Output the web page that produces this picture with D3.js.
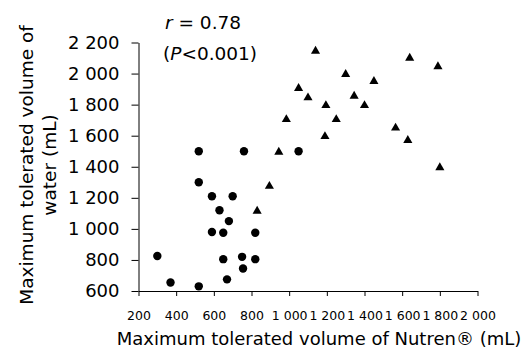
<!DOCTYPE html>
<html>
<head>
<meta charset="utf-8">
<script src="https://cdn.jsdelivr.net/npm/d3@7"></script>
<style>
  html, body { margin: 0; padding: 0; background: #fff; }
  svg { display: block; font-family: "DejaVu Sans", Verdana, sans-serif; }
</style>
</head>
<body>
<svg id="chart" width="524" height="350"></svg>
<script>
// circles: Nutren (mL) vs water (mL)
const circleNutren = [520, 760, 1050, 520, 590, 700, 630, 680, 590, 650, 820, 300, 650, 750, 820, 755, 670, 370, 520];
const circleWater = [1500, 1500, 1500, 1300, 1210, 1210, 1120, 1050, 980, 975, 975, 825, 805, 820, 805, 745, 675, 655, 630];

// triangles
const triNutren = [1140, 1050, 1100, 985, 945, 895, 830, 1640, 1790, 1300, 1450, 1345, 1195, 1400, 1250, 1565, 1190, 1630, 1800];
const triWater = [2150, 1910, 1850, 1710, 1500, 1280, 1120, 2105, 2050, 2000, 1955, 1860, 1800, 1800, 1710, 1655, 1600, 1575, 1400];

const xTicks = [200, 400, 600, 800, 1000, 1200, 1400, 1600, 1800, 2000];
const yTicks = [600, 800, 1000, 1200, 1400, 1600, 1800, 2000, 2200];

const locale = d3.formatLocale({ decimal: '.', thousands: '\u00a0', grouping: [3], currency: ['', ''] });
const fmt = locale.format(',');

const svg = d3.select('#chart');

const x = d3.scaleLinear().domain([200, 2000]).range([138.5, 477.5]);
const y = d3.scaleLinear().domain([600, 2200]).range([291, 42.5]);

// axes
const xAxis = svg.append('g')
  .attr('transform', `translate(0,${y(600)})`)
  .call(d3.axisBottom(x).tickValues(xTicks).tickFormat(fmt).tickSize(5).tickSizeOuter(0).tickPadding(15));
xAxis.selectAll('text').attr('font-size', 12.5).attr('fill', '#000');

const yAxis = svg.append('g')
  .attr('transform', `translate(${x(200)},0)`)
  .call(d3.axisLeft(y).tickValues(yTicks).tickFormat(fmt).tickSize(7).tickSizeOuter(0).tickPadding(12));
yAxis.selectAll('text').attr('font-size', 18).attr('fill', '#000');

[xAxis, yAxis].forEach((g) => {
  g.attr('font-family', null);
  g.selectAll('line, path').attr('stroke', '#000').attr('stroke-width', 1);
});

// markers
svg.append('g')
  .selectAll('circle')
  .data(circleNutren.map((v, i) => [v, circleWater[i]]))
  .join('circle')
  .attr('cx', (d) => x(d[0]))
  .attr('cy', (d) => y(d[1]))
  .attr('r', 4.2)
  .attr('fill', '#000');

const tri = d3.symbol().type(d3.symbolTriangle).size(36);
svg.append('g')
  .selectAll('path')
  .data(triNutren.map((v, i) => [v, triWater[i]]))
  .join('path')
  .attr('d', tri)
  .attr('transform', (d) => `translate(${x(d[0])},${y(d[1]) + 0.8})`)
  .attr('fill', '#000');

// annotation
const rText = svg.append('text').attr('x', 165).attr('y', 29).attr('font-size', 18.5).attr('fill', '#000');
rText.append('tspan').attr('font-style', 'italic').text('r');
rText.append('tspan').text(' = 0.78');

const pText = svg.append('text').attr('x', 163).attr('y', 60).attr('font-size', 18.5).attr('fill', '#000');
pText.append('tspan').text('(');
pText.append('tspan').attr('font-style', 'italic').text('P');
pText.append('tspan').text('<0.001)');

// axis titles
svg.append('text')
  .attr('x', 319).attr('y', 345)
  .attr('text-anchor', 'middle')
  .attr('font-size', 18)
  .attr('fill', '#000')
  .text('Maximum tolerated volume of Nutren\u00ae (mL)');

const yTitle = svg.append('text')
  .attr('transform', 'translate(0,165) rotate(-90)')
  .attr('text-anchor', 'middle')
  .attr('font-size', 18.5)
  .attr('fill', '#000');
yTitle.append('tspan').attr('x', 0).attr('y', 33).text('Maximum tolerated volume of');
yTitle.append('tspan').attr('x', 0).attr('y', 56).text('water (mL)');
</script>
</body>
</html>
